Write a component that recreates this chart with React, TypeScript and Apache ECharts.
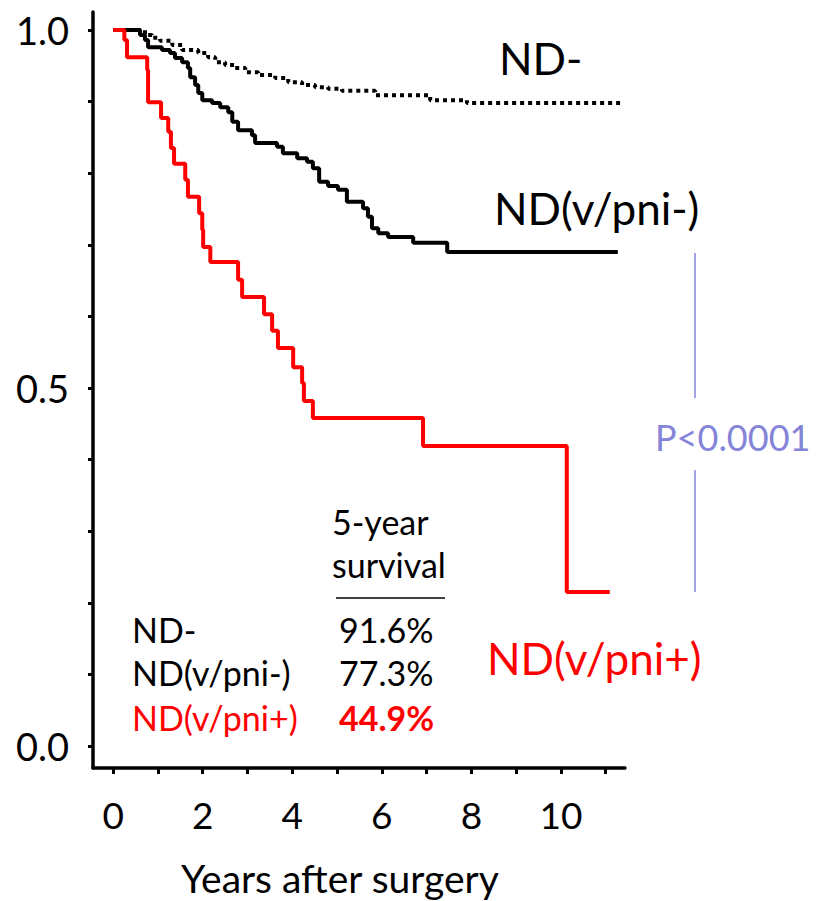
import React, { useEffect, useRef } from "react";
import * as echarts from "echarts";

// Kaplan-Meier step data (years after surgery, survival probability)
const ndNegTimes = [0, 0.71, 0.87, 1.05, 1.32, 1.54, 1.9, 2.12, 2.28, 2.5, 2.72, 2.95, 3.24, 3.62, 3.91, 4.22, 4.51, 4.8, 5.11, 5.85, 7.08, 7.9, 11.32];
const ndNegSurv = [1.0, 0.993, 0.989, 0.985, 0.979, 0.972, 0.968, 0.962, 0.955, 0.951, 0.947, 0.941, 0.937, 0.933, 0.927, 0.923, 0.92, 0.918, 0.915, 0.909, 0.902, 0.898, 0.898];

const ndPniNegTimes = [0, 0.6, 0.71, 0.78, 1.09, 1.27, 1.38, 1.54, 1.67, 1.72, 1.83, 1.9, 1.99, 2.21, 2.39, 2.57, 2.66, 2.79, 3.1, 3.17, 3.66, 3.79, 4.11, 4.33, 4.46, 4.6, 4.8, 5.02, 5.22, 5.58, 5.69, 5.78, 5.92, 6.14, 6.7, 7.46, 11.27];
const ndPniNegSurv = [1.0, 0.993, 0.986, 0.976, 0.972, 0.968, 0.961, 0.955, 0.947, 0.934, 0.923, 0.912, 0.902, 0.898, 0.892, 0.885, 0.872, 0.86, 0.853, 0.842, 0.837, 0.828, 0.821, 0.816, 0.807, 0.788, 0.782, 0.777, 0.76, 0.751, 0.739, 0.723, 0.716, 0.711, 0.703, 0.69, 0.69];

const ndPniPosTimes = [0, 0.25, 0.31, 0.76, 0.78, 1.07, 1.23, 1.29, 1.36, 1.61, 1.67, 1.92, 1.99, 2.01, 2.17, 2.79, 2.88, 3.37, 3.55, 3.68, 4.02, 4.22, 4.26, 4.46, 6.92, 10.13, 11.09];
const ndPniPosSurv = [1.0, 0.986, 0.962, 0.944, 0.899, 0.877, 0.858, 0.835, 0.813, 0.791, 0.767, 0.744, 0.721, 0.697, 0.676, 0.651, 0.627, 0.603, 0.58, 0.556, 0.529, 0.507, 0.482, 0.458, 0.419, 0.215, 0.215];

const groupNames = ["ND-", "ND(v/pni-)", "ND(v/pni+)"];
const fiveYearSurvival = ["91.6%", "77.3%", "44.9%"];
const xTickValues = [0, 1, 2, 3, 4, 5, 6, 7, 8, 9, 10, 11];
const xLabelValues = [0, 2, 4, 6, 8, 10];
const yTickValues = [0, 0.1, 0.2, 0.3, 0.4, 0.5, 0.6, 0.7, 0.8, 0.9, 1.0];
const yLabelValues = [0, 0.5, 1.0];
const pValueText = "P<0.0001";

const FONT = "Lato";

function pairs(t: number[], s: number[]) {
  return t.map((v, i) => [v, s[i]]);
}

export default function App() {
  const ref = useRef<HTMLDivElement>(null);
  useEffect(() => {
    if (!ref.current) return;
    const chart = echarts.init(ref.current, null, { renderer: "svg" });
    const blue = "#8484d8";
    chart.setOption({
      animation: false,
      backgroundColor: "#ffffff",
      grid: { left: 93, right: 192, top: 12, bottom: 133, containLabel: false },
      xAxis: {
        type: "value",
        min: -0.45,
        max: 11.43,
        splitLine: { show: false },
        axisLine: { show: true, onZero: false, lineStyle: { color: "#000", width: 3.5 } },
        axisTick: { show: true, length: 6, lineStyle: { color: "#000", width: 3 }, customValues: xTickValues },
        axisLabel: {
          customValues: xLabelValues,
          color: "#000",
          fontFamily: FONT,
          fontSize: 37,
          margin: 28,
        },
      },
      yAxis: {
        type: "value",
        min: -0.0307,
        max: 1.0251,
        splitLine: { show: false },
        axisLine: { show: true, onZero: false, lineStyle: { color: "#000", width: 3.5 } },
        axisTick: { show: true, length: 5, lineStyle: { color: "#000", width: 3 }, customValues: yTickValues },
        axisLabel: {
          customValues: yLabelValues,
          color: "#000",
          fontFamily: FONT,
          fontSize: 38,
          margin: 24,
          formatter: (v: number) => v.toFixed(1),
        },
      },
      series: [
        {
          name: groupNames[0],
          type: "line",
          step: "end",
          showSymbol: false,
          data: pairs(ndNegTimes, ndNegSurv),
          lineStyle: { color: "#000", width: 4, type: [4, 4] },
          z: 3,
        },
        {
          name: groupNames[1],
          type: "line",
          step: "end",
          showSymbol: false,
          data: pairs(ndPniNegTimes, ndPniNegSurv),
          lineStyle: { color: "#000", width: 4 },
          z: 4,
        },
        {
          name: groupNames[2],
          type: "line",
          step: "end",
          showSymbol: false,
          data: pairs(ndPniPosTimes, ndPniPosSurv),
          lineStyle: { color: "#ff0000", width: 4 },
          z: 5,
        },
      ],
      graphic: [
        { type: "text", left: 499, top: 36, style: { text: groupNames[0], fill: "#000", font: `44px ${FONT}` } },
        { type: "text", left: 494, top: 186, style: { text: groupNames[1], fill: "#000", font: `44px ${FONT}` } },
        { type: "text", left: 487, top: 636, style: { text: groupNames[2], fill: "#ff0000", font: `44px ${FONT}` } },
        { type: "text", left: 655, top: 419, style: { text: pValueText, fill: blue, font: `36px ${FONT}` } },
        { type: "line", shape: { x1: 695, y1: 253, x2: 695, y2: 398 }, style: { stroke: blue, lineWidth: 1.5 } },
        { type: "line", shape: { x1: 695, y1: 470, x2: 695, y2: 592 }, style: { stroke: blue, lineWidth: 1.5 } },
        { type: "text", left: 332, top: 504, style: { text: "5-year", fill: "#000", font: `34px ${FONT}` } },
        { type: "text", left: 332, top: 547, style: { text: "survival", fill: "#000", font: `34px ${FONT}` } },
        { type: "line", shape: { x1: 336, y1: 598, x2: 445, y2: 598 }, style: { stroke: "#000", lineWidth: 1.5 } },
        { type: "text", left: 132, top: 612, style: { text: groupNames[0], fill: "#000", font: `34px ${FONT}` } },
        { type: "text", left: 132, top: 655, style: { text: groupNames[1], fill: "#000", font: `34px ${FONT}` } },
        { type: "text", left: 132, top: 700, style: { text: groupNames[2], fill: "#ff0000", font: `34px ${FONT}` } },
        { type: "text", left: 339, top: 612, style: { text: fiveYearSurvival[0], fill: "#000", font: `34px ${FONT}` } },
        { type: "text", left: 339, top: 655, style: { text: fiveYearSurvival[1], fill: "#000", font: `34px ${FONT}` } },
        { type: "text", left: 339, top: 700, style: { text: fiveYearSurvival[2], fill: "#ff0000", font: `bold 34px ${FONT}` } },
        { type: "text", left: 181, top: 858, style: { text: "Years after surgery", fill: "#000", font: `39px ${FONT}` } },
      ],
    });
    return () => chart.dispose();
  }, []);
  return <div ref={ref} style={{ position: "absolute", left: 0, top: 0, width: 817, height: 901 }} />;
}
